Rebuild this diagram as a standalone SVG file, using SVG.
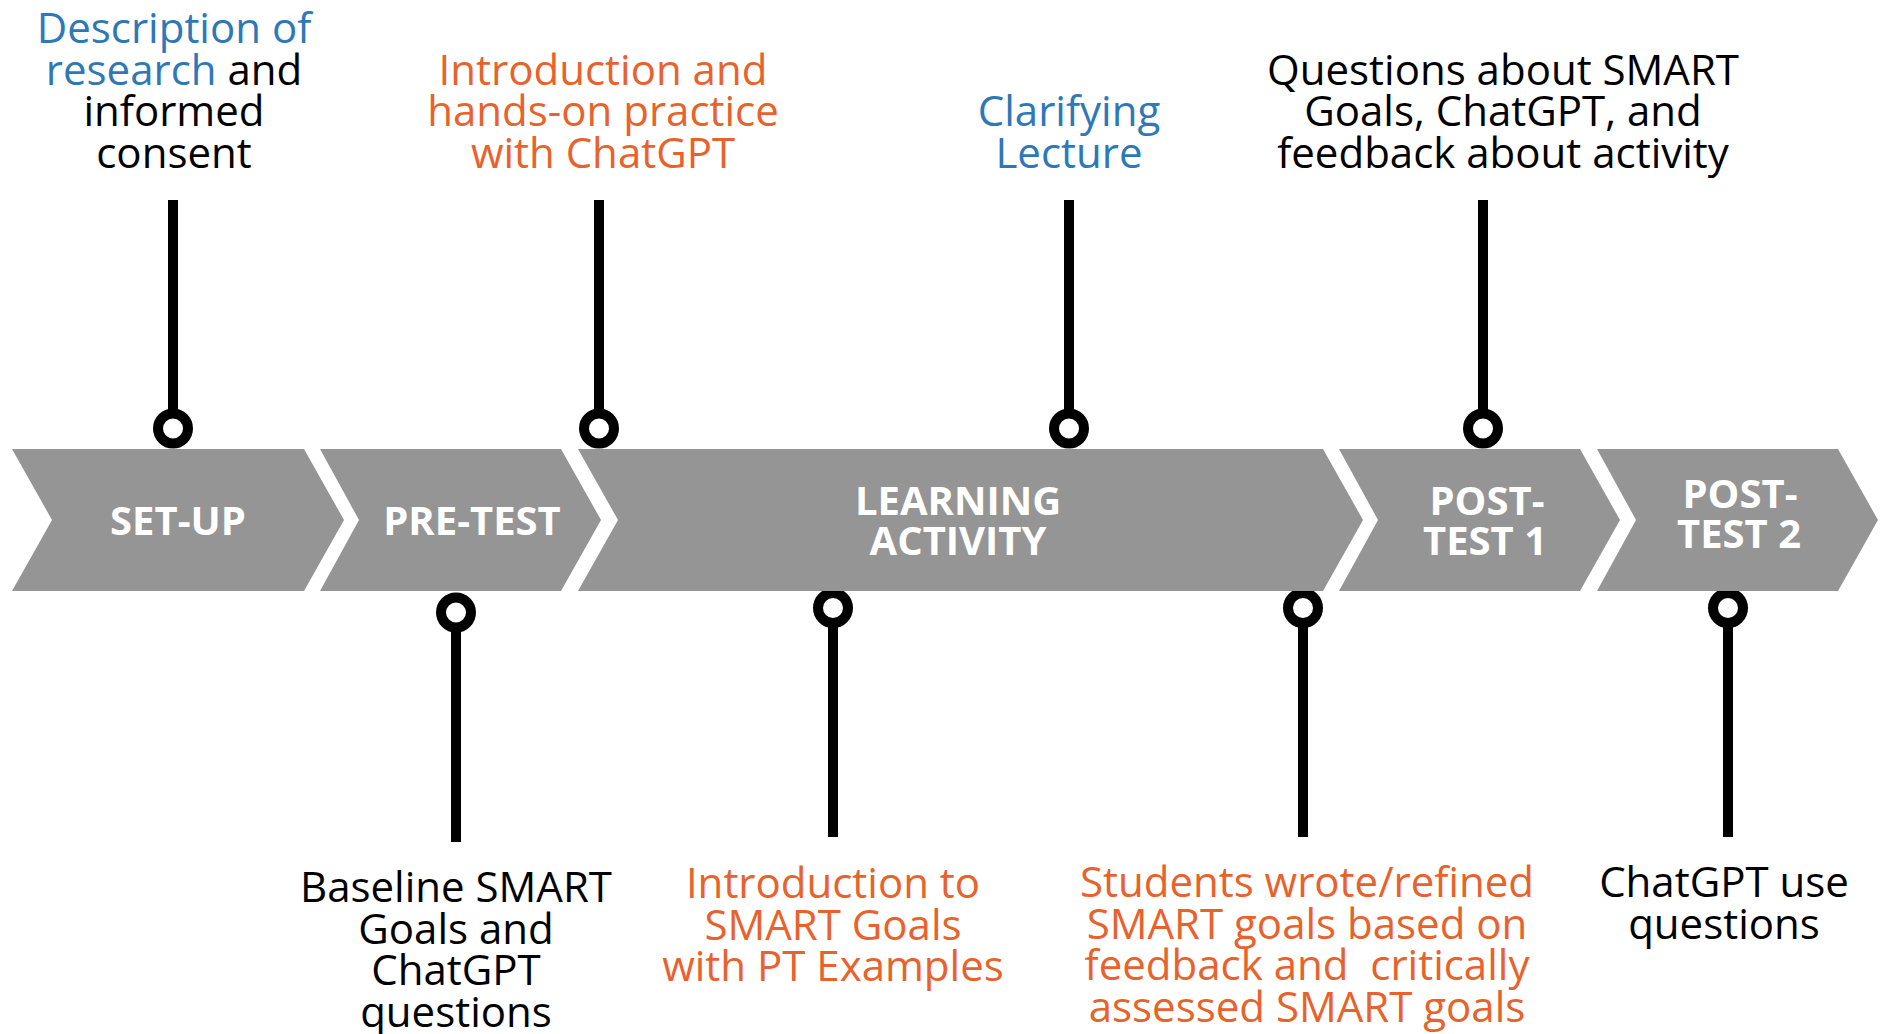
<svg xmlns="http://www.w3.org/2000/svg" width="1884" height="1034" viewBox="0 0 1884 1034">
<style>
  .chev { fill: #959595; }
  .ctext { font-family: "Open Sans", "Liberation Sans", sans-serif; font-weight: 700; font-size: 40px; fill: #ffffff; text-anchor: middle; }
  .lbl { font-family: "Open Sans", "Liberation Sans", sans-serif; font-size: 42px; text-anchor: middle; fill: #000000; }
  .blue { fill: #2E78B8; }
  .orange { fill: #E8622C; }
  .black { fill: #000000; }
  .stem { stroke: #000000; stroke-width: 10; fill: none; }
  .pin { stroke: #000000; stroke-width: 10; fill: #ffffff; }
</style>
<rect width="1884" height="1034" fill="#ffffff"/>

<g id="connectors">
  <line class="stem" x1="173" y1="200" x2="173" y2="418"/>
  <line class="stem" x1="599" y1="200" x2="599" y2="418"/>
  <line class="stem" x1="1069" y1="200" x2="1069" y2="418"/>
  <line class="stem" x1="1483" y1="200" x2="1483" y2="418"/>
  <line class="stem" x1="456" y1="622" x2="456" y2="842"/>
  <line class="stem" x1="833" y1="618" x2="833" y2="837"/>
  <line class="stem" x1="1303" y1="618" x2="1303" y2="837"/>
  <line class="stem" x1="1728" y1="618" x2="1728" y2="837"/>
  <circle class="pin" cx="173" cy="428.5" r="15"/>
  <circle class="pin" cx="599" cy="428.5" r="15"/>
  <circle class="pin" cx="1069" cy="428.5" r="15"/>
  <circle class="pin" cx="1483" cy="428.5" r="15"/>
  <circle class="pin" cx="456" cy="612.5" r="15"/>
  <circle class="pin" cx="833" cy="608" r="15"/>
  <circle class="pin" cx="1303" cy="608" r="15"/>
  <circle class="pin" cx="1728" cy="608" r="15"/>
</g>

<g id="setup">
  <polygon class="chev" points="12,449 304,449 344,520 304,591 12,591 52,520"/>
  <text class="ctext" x="178" y="535">SET-UP</text>
</g>
<g id="pretest">
  <polygon class="chev" points="320,449 561,449 601,520 561,591 320,591 359,520"/>
  <text class="ctext" x="472" y="535">PRE-TEST</text>
</g>
<g id="learning">
  <polygon class="chev" points="578,449 1323,449 1363,520 1323,591 578,591 618,520"/>
  <text class="ctext" x="958" y="515">LEARNING</text>
  <text class="ctext" x="958" y="555">ACTIVITY</text>
</g>
<g id="posttest1">
  <polygon class="chev" points="1339,449 1580,449 1620,520 1580,591 1339,591 1378,520"/>
  <text class="ctext" x="1487" y="515">POST-</text>
  <text class="ctext" x="1485" y="555">TEST 1</text>
</g>
<g id="posttest2">
  <polygon class="chev" points="1597,449 1838,449 1878,520 1838,591 1597,591 1636,520"/>
  <text class="ctext" x="1740" y="508">POST-</text>
  <text class="ctext" x="1739" y="548">TEST 2</text>
</g>

<g id="label-setup">
  <text class="lbl" x="174" y="43"><tspan class="blue">Description of</tspan></text>
  <text class="lbl" x="174" y="84.5"><tspan class="blue">research</tspan><tspan class="black"> and</tspan></text>
  <text class="lbl" x="174" y="126">informed</text>
  <text class="lbl" x="174" y="167.5">consent</text>
</g>
<g id="label-intro-chatgpt">
  <text class="lbl orange" x="603" y="84.5">Introduction and</text>
  <text class="lbl orange" x="603" y="126">hands-on practice</text>
  <text class="lbl orange" x="603" y="167.5">with ChatGPT</text>
</g>
<g id="label-clarifying">
  <text class="lbl blue" x="1069" y="126">Clarifying</text>
  <text class="lbl blue" x="1069" y="167.5">Lecture</text>
</g>
<g id="label-questions">
  <text class="lbl" x="1503" y="84.5">Questions about SMART</text>
  <text class="lbl" x="1503" y="126">Goals, ChatGPT, and</text>
  <text class="lbl" x="1503" y="167.5">feedback about activity</text>
</g>
<g id="label-baseline">
  <text class="lbl" x="456" y="902">Baseline SMART</text>
  <text class="lbl" x="456" y="943.5">Goals and</text>
  <text class="lbl" x="456" y="985">ChatGPT</text>
  <text class="lbl" x="456" y="1026.5">questions</text>
</g>
<g id="label-intro-smart">
  <text class="lbl orange" x="833" y="898">Introduction to</text>
  <text class="lbl orange" x="833" y="939.5">SMART Goals</text>
  <text class="lbl orange" x="833" y="981">with PT Examples</text>
</g>
<g id="label-students">
  <text class="lbl orange" x="1307" y="897">Students wrote/refined</text>
  <text class="lbl orange" x="1307" y="938.5">SMART goals based on</text>
  <text class="lbl orange" x="1307" y="980" style="white-space:pre">feedback and  critically</text>
  <text class="lbl orange" x="1307" y="1021.5">assessed SMART goals</text>
</g>
<g id="label-chatgpt-use">
  <text class="lbl" x="1724" y="897">ChatGPT use</text>
  <text class="lbl" x="1724" y="938.5">questions</text>
</g>
</svg>
